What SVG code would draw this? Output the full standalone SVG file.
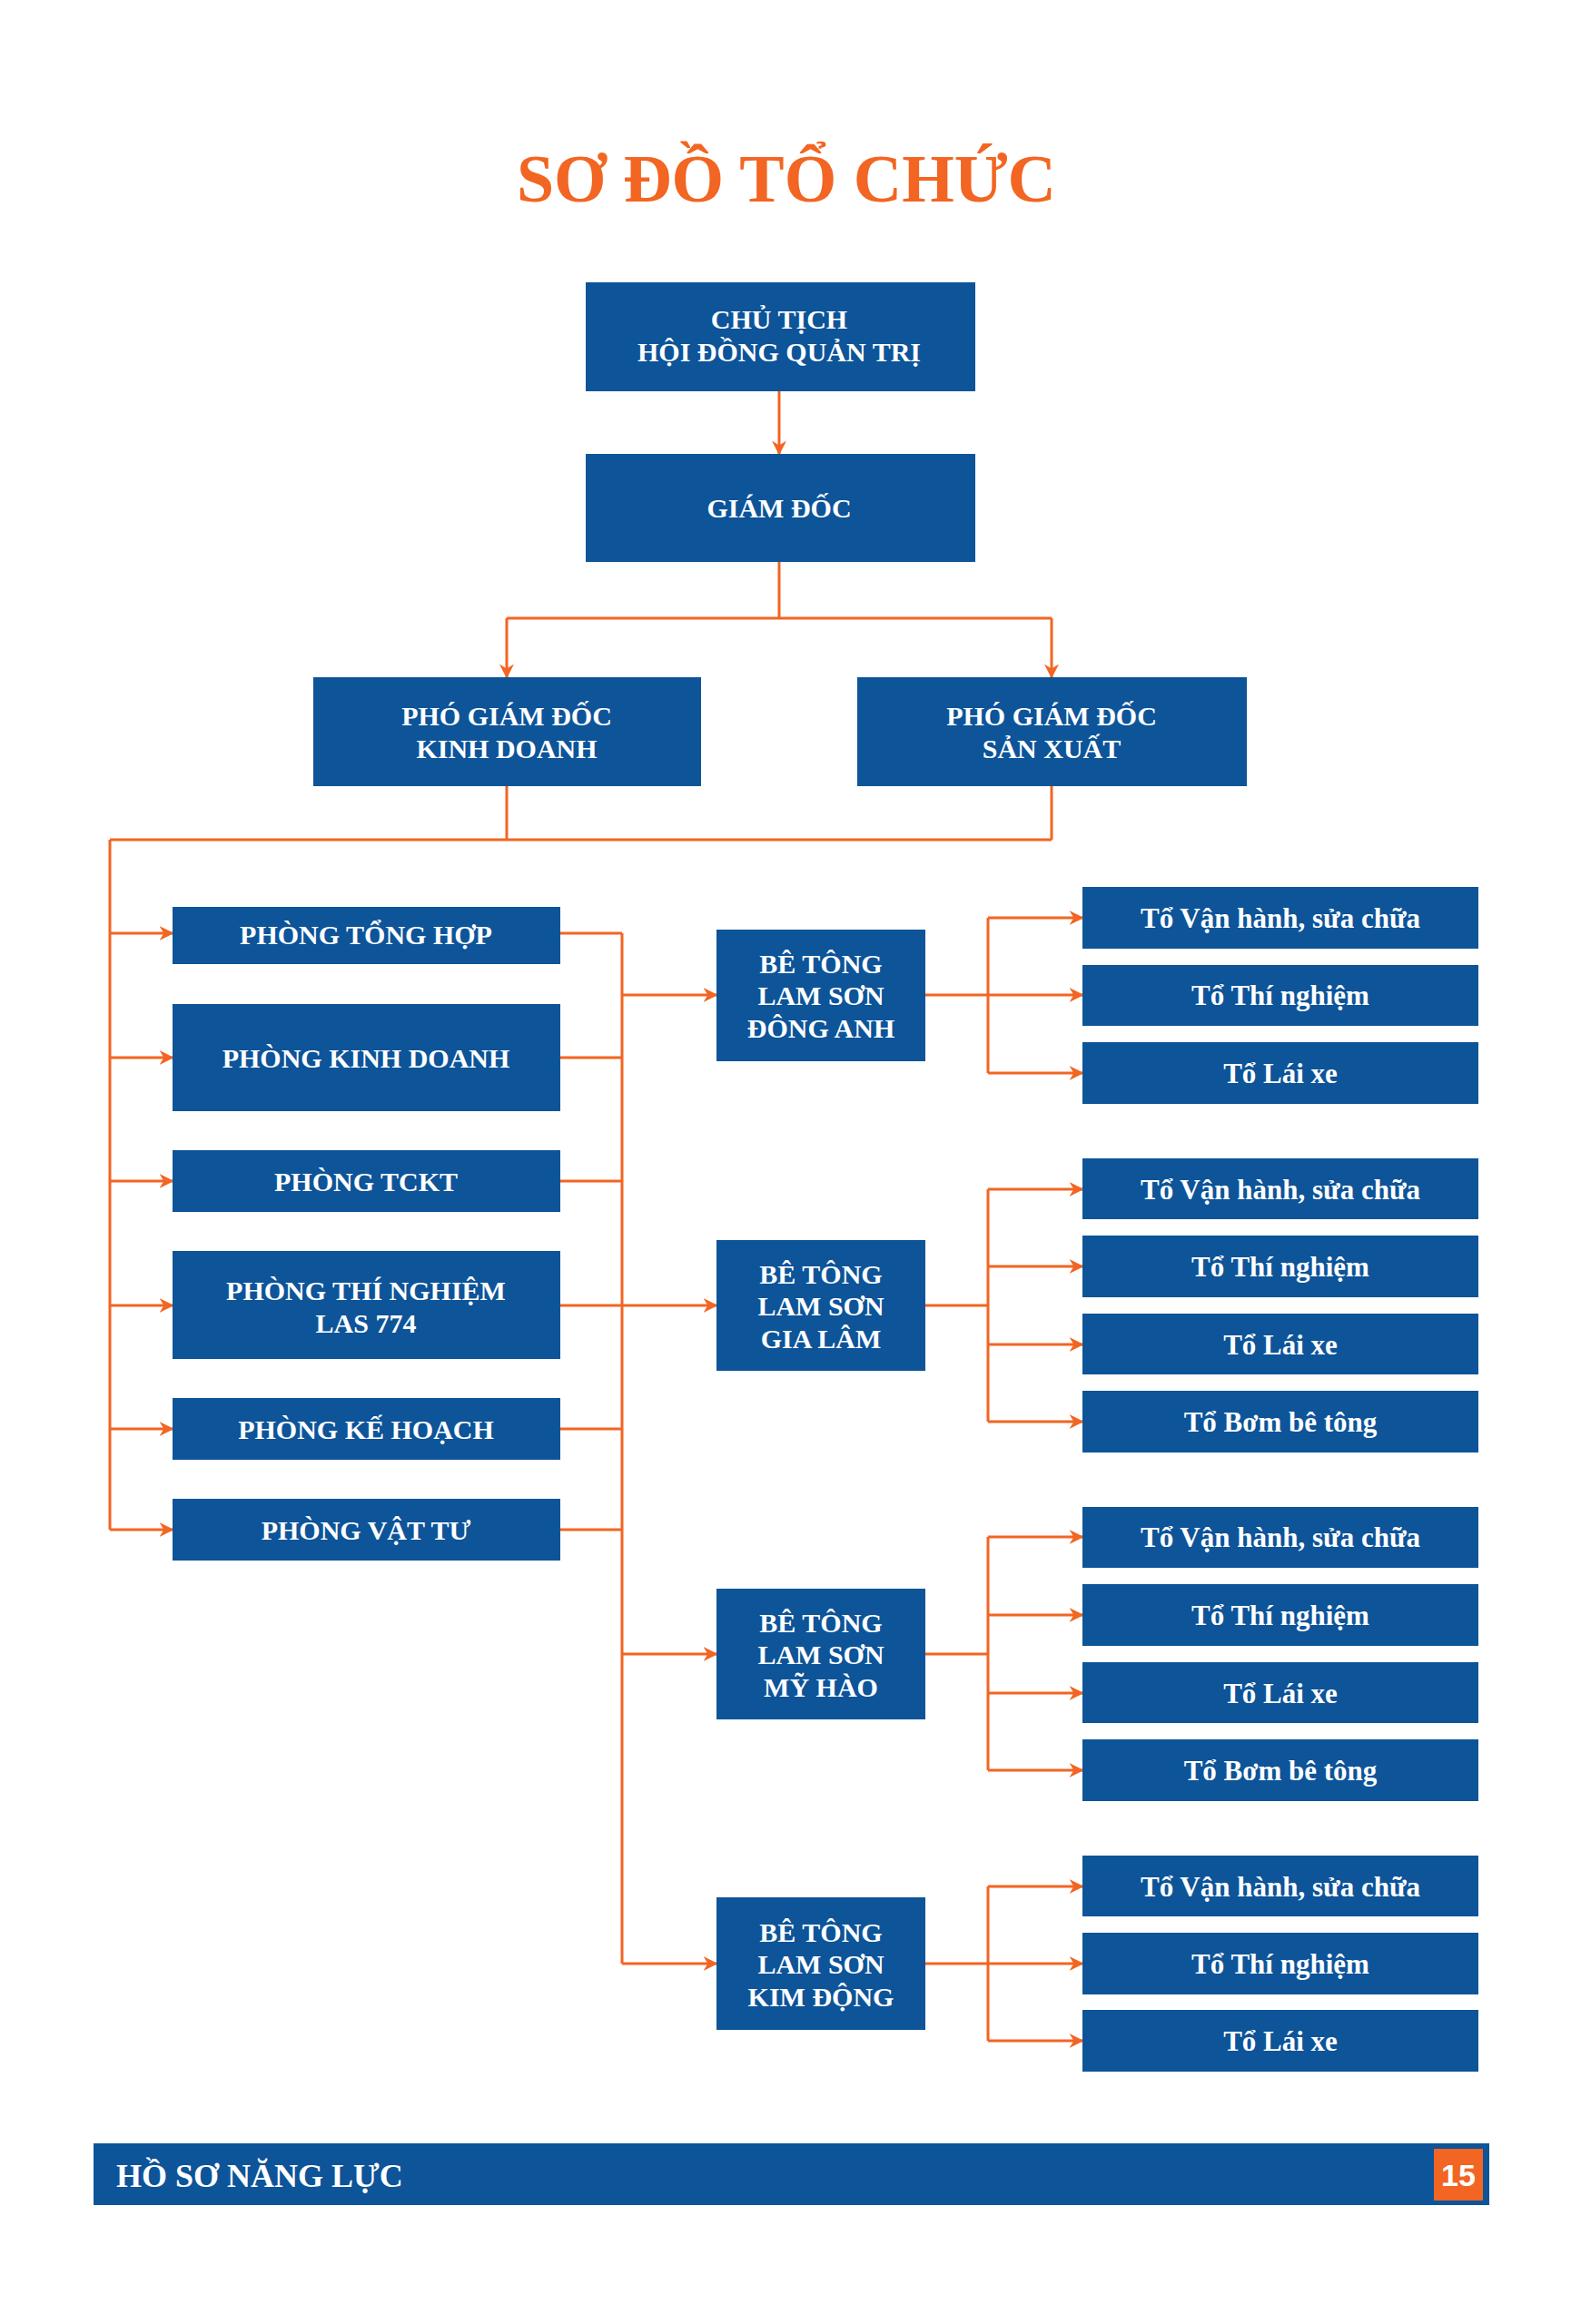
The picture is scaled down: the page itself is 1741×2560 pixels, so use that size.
<svg xmlns="http://www.w3.org/2000/svg" width="1741" height="2560" viewBox="0 0 1741 2560">
<style>
.b{fill:#0d5499}
.t{font-family:"Liberation Serif",serif;font-weight:bold;fill:#fff;text-anchor:middle;font-size:30px}
.s{font-size:31px}
.c{fill:none;stroke:#f26522;stroke-width:3}
</style>
<defs><marker id="a" viewBox="0 0 10 10" refX="9" refY="5" markerWidth="6" markerHeight="6" markerUnits="userSpaceOnUse" orient="auto"><path d="M0,0 L10,5 L0,10 L3,5 Z" fill="#f26522" transform="scale(1)"/></marker>
<marker id="m" viewBox="0 0 10 10" refX="9" refY="5" markerWidth="16" markerHeight="16" markerUnits="userSpaceOnUse" orient="auto"><path d="M0,0 L10,5 L0,10 L3,5 Z" fill="#f26522"/></marker></defs>
<rect width="1741" height="2560" fill="#fff"/>
<text x="866" y="222" font-family="Liberation Serif,serif" font-weight="bold" font-size="74" fill="#f26522" text-anchor="middle">SƠ ĐỒ TỔ CHỨC</text>
<g id="connectors" class="c">
<path d="M858,431 V500" marker-end="url(#m)"/>
<path d="M858,619 V681 M558,681 H1158"/>
<path d="M558,681 V746" marker-end="url(#m)"/><path d="M1158,681 V746" marker-end="url(#m)"/>
<path d="M558,866 V925 M1158,866 V925 M121,925 H1158 M121,925 V1685"/>
<path d="M121,1028 H190" marker-end="url(#m)"/><path d="M121,1165 H190" marker-end="url(#m)"/><path d="M121,1301 H190" marker-end="url(#m)"/><path d="M121,1438 H190" marker-end="url(#m)"/><path d="M121,1574 H190" marker-end="url(#m)"/><path d="M121,1685 H190" marker-end="url(#m)"/>
<path d="M617,1028 H685 M617,1165 H685 M617,1301 H685 M617,1438 H685 M617,1574 H685 M617,1685 H685 M685,1028 V2163"/>
<path d="M685,1096 H789" marker-end="url(#m)"/><path d="M685,1438 H789" marker-end="url(#m)"/><path d="M685,1822 H789" marker-end="url(#m)"/><path d="M685,2163 H789" marker-end="url(#m)"/>
<path d="M1019,1096 H1088 M1088,1011 V1182 M1019,1438 H1088 M1088,1310 V1566 M1019,1822 H1088 M1088,1693 V1950 M1019,2163 H1088 M1088,2078 V2248"/>
<path d="M1088,1011 H1192" marker-end="url(#m)"/><path d="M1088,1096 H1192" marker-end="url(#m)"/><path d="M1088,1182 H1192" marker-end="url(#m)"/>
<path d="M1088,1310 H1192" marker-end="url(#m)"/><path d="M1088,1395 H1192" marker-end="url(#m)"/><path d="M1088,1481 H1192" marker-end="url(#m)"/><path d="M1088,1566 H1192" marker-end="url(#m)"/>
<path d="M1088,1693 H1192" marker-end="url(#m)"/><path d="M1088,1779 H1192" marker-end="url(#m)"/><path d="M1088,1865 H1192" marker-end="url(#m)"/><path d="M1088,1950 H1192" marker-end="url(#m)"/>
<path d="M1088,2078 H1192" marker-end="url(#m)"/><path d="M1088,2163 H1192" marker-end="url(#m)"/><path d="M1088,2248 H1192" marker-end="url(#m)"/>
</g>
<g id="chutich"><rect class="b" x="645" y="311" width="429" height="120"/><text class="t" x="858" y="362">CHỦ TỊCH</text><text class="t" x="858" y="398">HỘI ĐỒNG QUẢN TRỊ</text></g>
<g id="giamdoc"><rect class="b" x="645" y="500" width="429" height="119"/><text class="t" x="858" y="570">GIÁM ĐỐC</text></g>
<g id="pgdkd"><rect class="b" x="345" y="746" width="427" height="120"/><text class="t" x="558" y="799">PHÓ GIÁM ĐỐC</text><text class="t" x="558" y="835">KINH DOANH</text></g>
<g id="pgdsx"><rect class="b" x="944" y="746" width="429" height="120"/><text class="t" x="1158" y="799">PHÓ GIÁM ĐỐC</text><text class="t" x="1158" y="835">SẢN XUẤT</text></g>
<g id="p1"><rect class="b" x="190" y="999" width="427" height="63"/><text class="t" x="403" y="1040">PHÒNG TỔNG HỢP</text></g>
<g id="p2"><rect class="b" x="190" y="1106" width="427" height="118"/><text class="t" x="403" y="1176">PHÒNG KINH DOANH</text></g>
<g id="p3"><rect class="b" x="190" y="1267" width="427" height="68"/><text class="t" x="403" y="1312">PHÒNG TCKT</text></g>
<g id="p4"><rect class="b" x="190" y="1378" width="427" height="119"/><text class="t" x="403" y="1432">PHÒNG THÍ NGHIỆM</text><text class="t" x="403" y="1468">LAS 774</text></g>
<g id="p5"><rect class="b" x="190" y="1540" width="427" height="68"/><text class="t" x="403" y="1585">PHÒNG KẾ HOẠCH</text></g>
<g id="p6"><rect class="b" x="190" y="1651" width="427" height="68"/><text class="t" x="403" y="1696">PHÒNG VẬT TƯ</text></g>
<g id="bt1"><rect class="b" x="789" y="1024" width="230" height="145"/><text class="t" x="904" y="1072">BÊ TÔNG</text><text class="t" x="904" y="1107">LAM SƠN</text><text class="t" x="904" y="1143">ĐÔNG ANH</text></g>
<g id="bt2"><rect class="b" x="789" y="1366" width="230" height="144"/><text class="t" x="904" y="1414">BÊ TÔNG</text><text class="t" x="904" y="1449">LAM SƠN</text><text class="t" x="904" y="1485">GIA LÂM</text></g>
<g id="bt3"><rect class="b" x="789" y="1750" width="230" height="144"/><text class="t" x="904" y="1798">BÊ TÔNG</text><text class="t" x="904" y="1833">LAM SƠN</text><text class="t" x="904" y="1869">MỸ HÀO</text></g>
<g id="bt4"><rect class="b" x="789" y="2090" width="230" height="146"/><text class="t" x="904" y="2139">BÊ TÔNG</text><text class="t" x="904" y="2174">LAM SƠN</text><text class="t" x="904" y="2210">KIM ĐỘNG</text></g>
<g id="r1"><rect class="b" x="1192" y="977" width="436" height="68"/><text class="t s" x="1410" y="1022">Tổ Vận hành, sửa chữa</text></g>
<g id="r2"><rect class="b" x="1192" y="1063" width="436" height="67"/><text class="t s" x="1410" y="1107">Tổ Thí nghiệm</text></g>
<g id="r3"><rect class="b" x="1192" y="1148" width="436" height="68"/><text class="t s" x="1410" y="1193">Tổ Lái xe</text></g>
<g id="r4"><rect class="b" x="1192" y="1276" width="436" height="67"/><text class="t s" x="1410" y="1321">Tổ Vận hành, sửa chữa</text></g>
<g id="r5"><rect class="b" x="1192" y="1361" width="436" height="68"/><text class="t s" x="1410" y="1406">Tổ Thí nghiệm</text></g>
<g id="r6"><rect class="b" x="1192" y="1447" width="436" height="67"/><text class="t s" x="1410" y="1492">Tổ Lái xe</text></g>
<g id="r7"><rect class="b" x="1192" y="1532" width="436" height="68"/><text class="t s" x="1410" y="1577">Tổ Bơm bê tông</text></g>
<g id="r8"><rect class="b" x="1192" y="1660" width="436" height="67"/><text class="t s" x="1410" y="1704">Tổ Vận hành, sửa chữa</text></g>
<g id="r9"><rect class="b" x="1192" y="1745" width="436" height="68"/><text class="t s" x="1410" y="1790">Tổ Thí nghiệm</text></g>
<g id="r10"><rect class="b" x="1192" y="1831" width="436" height="67"/><text class="t s" x="1410" y="1876">Tổ Lái xe</text></g>
<g id="r11"><rect class="b" x="1192" y="1916" width="436" height="68"/><text class="t s" x="1410" y="1961">Tổ Bơm bê tông</text></g>
<g id="r12"><rect class="b" x="1192" y="2044" width="436" height="67"/><text class="t s" x="1410" y="2089">Tổ Vận hành, sửa chữa</text></g>
<g id="r13"><rect class="b" x="1192" y="2129" width="436" height="68"/><text class="t s" x="1410" y="2174">Tổ Thí nghiệm</text></g>
<g id="r14"><rect class="b" x="1192" y="2214" width="436" height="68"/><text class="t s" x="1410" y="2259">Tổ Lái xe</text></g>
<g id="footer"><rect class="b" x="103" y="2361" width="1537" height="68"/><text x="128" y="2409" font-family="Liberation Serif,serif" font-weight="bold" font-size="36" fill="#fff">HỒ SƠ NĂNG LỰC</text><rect x="1579" y="2367" width="54" height="57" fill="#f26522"/><text x="1606" y="2408" font-family="Liberation Sans,sans-serif" font-weight="bold" font-size="34" fill="#fff" text-anchor="middle">15</text></g>
</svg>
